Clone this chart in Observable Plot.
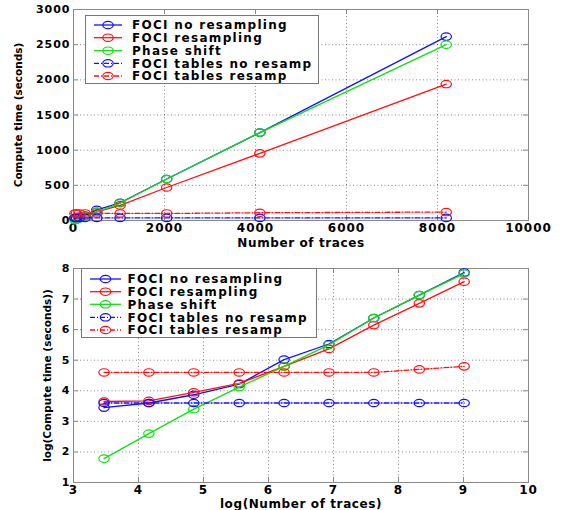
<!DOCTYPE html>
<html><head><meta charset="utf-8">
<script src="https://cdn.jsdelivr.net/npm/d3@7"></script>
<script src="https://cdn.jsdelivr.net/npm/@observablehq/plot@0.6"></script>
<style>
body{margin:0;background:#fff;}
#wrap{position:relative;width:563px;height:510px;overflow:hidden;}
#wrap svg{display:block;}
g[aria-label="y-axis label"] text{letter-spacing:0;font-size:10.5px;}
g[aria-label="x-axis label"] text{letter-spacing:0.6px;}
.legend{position:absolute;}
</style>
</head><body>
<div id="wrap"></div>
<script>
// ---------- data ----------
const traces = [32, 64, 128, 256, 512, 1024, 2048, 4096, 8192];
const logTraces = [3.47, 4.16, 4.85, 5.55, 6.24, 6.93, 7.62, 8.32, 9.01];

const seriesNames = ["FOCI no resampling", "FOCI resampling", "Phase shift", "FOCI tables no resamp", "FOCI tables resamp"];
const seriesColors = ["#1010ff", "#ff1010", "#10e010", "#1010ff", "#ff1010"];
const seriesDash = [null, null, null, "5,2,1,2", "5,2,1,2"];

// compute time (seconds) — top panel
const timeFociNoResamp   = [32, 37, 48, 68, 151, 252, 590, 1250, 2615];
const timeFociResamp     = [38, 39, 52, 69, 122, 215, 469, 955, 1940];
const timePhaseShift     = [6, 13, 30, 62, 122, 245, 590, 1250, 2500];
const timeTablesNoResamp = [37, 37, 37, 37, 37, 37, 37, 37, 37];
const timeTablesResamp   = [100, 100, 100, 100, 100, 100, 100, 110, 120];

// log(compute time) — bottom panel
const logFociNoResamp   = [3.45, 3.60, 3.87, 4.22, 5.02, 5.53, 6.38, 7.13, 7.87];
const logFociResamp     = [3.65, 3.67, 3.95, 4.24, 4.80, 5.37, 6.15, 6.86, 7.57];
const logPhaseShift     = [1.78, 2.60, 3.40, 4.12, 4.80, 5.50, 6.38, 7.13, 7.83];
const logTablesNoResamp = [3.60, 3.60, 3.60, 3.60, 3.60, 3.60, 3.60, 3.60, 3.60];
const logTablesResamp   = [4.60, 4.60, 4.60, 4.60, 4.60, 4.60, 4.60, 4.70, 4.80];

const xTicksTop = [0, 2000, 4000, 6000, 8000, 10000];
const yTicksTop = [0, 500, 1000, 1500, 2000, 2500, 3000];
const xTicksBottom = [3, 4, 5, 6, 7, 8, 9, 10];
const yTicksBottom = [1, 2, 3, 4, 5, 6, 7, 8];

// ---------- helpers ----------
const ellipse = {
  draw(ctx, size) {
    const r = Math.sqrt(size / Math.PI), rx = r * 1.4, ry = r, k = 0.5523;
    ctx.moveTo(rx, 0);
    ctx.bezierCurveTo(rx, ry * k, rx * k, ry, 0, ry);
    ctx.bezierCurveTo(-rx * k, ry, -rx, ry * k, -rx, 0);
    ctx.bezierCurveTo(-rx, -ry * k, -rx * k, -ry, 0, -ry);
    ctx.bezierCurveTo(rx * k, -ry, rx, -ry * k, rx, 0);
    ctx.closePath();
  }
};

function seriesMarks(xs, ysList) {
  const marks = [];
  ysList.forEach((ys, i) => {
    const rows = xs.map((x, j) => ({x, y: ys[j]}));
    marks.push(Plot.line(rows, {x: "x", y: "y", stroke: seriesColors[i], strokeWidth: 1.3,
      strokeDasharray: seriesDash[i] || undefined}));
    marks.push(Plot.dot(rows, {x: "x", y: "y", stroke: seriesColors[i], fill: "none", r: 3.7,
      symbol: ellipse, strokeWidth: 1.2}));
  });
  return marks;
}

function panel({xDomain, yDomain, xTicks, yTicks, xs, ysList, xLabel, yLabel,
                height, marginTop, marginBottom, xLabelOffset, yLabelOffset}) {
  const W = 563, mL = 73, mR = 35;
  const pw = W - mL - mR, ph = height - marginTop - marginBottom;
  const frameColor = "#8a8a8a";
  const fmt = d => String(d);
  return Plot.plot({
    width: W, height, marginLeft: mL, marginRight: mR, marginTop, marginBottom,
    style: {fontFamily: "'DejaVu Sans', sans-serif", fontWeight: "bold", fontSize: "11px",
            letterSpacing: "1px", color: "#000", background: "#fff"},
    x: {domain: xDomain},
    y: {domain: yDomain},
    marks: [
      Plot.gridX(xTicks, {stroke: "#000", strokeOpacity: 0.45, strokeDasharray: "1,2.5"}),
      Plot.gridY(yTicks, {stroke: "#000", strokeOpacity: 0.45, strokeDasharray: "1,2.5"}),
      Plot.tickX(xTicks, {x: d => d, insetTop: ph - 5, stroke: frameColor}),
      Plot.tickX(xTicks, {x: d => d, insetBottom: ph - 5, stroke: frameColor}),
      Plot.tickY(yTicks, {y: d => d, insetRight: pw - 5, stroke: frameColor}),
      Plot.tickY(yTicks, {y: d => d, insetLeft: pw - 5, stroke: frameColor}),
      Plot.frame({stroke: frameColor}),
      Plot.axisX(xTicks, {tickSize: 0, tickPadding: 3, tickFormat: fmt, label: xLabel, labelAnchor: "center",
        labelArrow: "none", labelOffset: xLabelOffset, fontSize: 12}),
      Plot.axisY(yTicks, {tickSize: 0, tickPadding: 3, tickFormat: fmt, label: yLabel, labelAnchor: "center",
        labelArrow: "none", labelOffset: yLabelOffset, fontSize: 11}),
      ...seriesMarks(xs, ysList)
    ]
  });
}

function legend({left, top, width, height, rowY, lineX1, lineX2, textX}) {
  const svg = d3.create("svg").attr("class", "legend").attr("width", width).attr("height", height)
    .style("left", left + "px").style("top", top + "px");
  svg.append("rect").attr("x", 0.5).attr("y", 0.5).attr("width", width - 1).attr("height", height - 1)
    .attr("fill", "#fff").attr("stroke", "#777");
  seriesNames.forEach((name, i) => {
    const y = rowY[i] - top;
    svg.append("line").attr("x1", lineX1 - left).attr("x2", lineX2 - left).attr("y1", y).attr("y2", y)
      .attr("stroke", seriesColors[i]).attr("stroke-width", 1.3)
      .attr("stroke-dasharray", seriesDash[i]);
    svg.append("ellipse").attr("cx", (lineX1 + lineX2) / 2 - left).attr("cy", y).attr("rx", 5.2).attr("ry", 3.7)
      .attr("fill", "none").attr("stroke", seriesColors[i]).attr("stroke-width", 1.2);
    svg.append("text").attr("x", textX - left).attr("y", y).attr("dy", "0.36em").text(name)
      .attr("font-family", "'DejaVu Sans', sans-serif").attr("font-weight", "bold")
      .attr("font-size", 12).attr("letter-spacing", "1.3px").attr("fill", "#000");
  });
  return svg.node();
}

const wrap = document.getElementById("wrap");

wrap.appendChild(panel({
  xDomain: [0, 10000], yDomain: [0, 3000], xTicks: xTicksTop, yTicks: yTicksTop,
  xs: traces,
  ysList: [timeFociNoResamp, timeFociResamp, timePhaseShift, timeTablesNoResamp, timeTablesResamp],
  xLabel: "Number of traces", yLabel: "Compute time (seconds)",
  height: 255, marginTop: 9, marginBottom: 35, xLabelOffset: 26, yLabelOffset: 59
}));

wrap.appendChild(panel({
  xDomain: [3, 10], yDomain: [1, 8], xTicks: xTicksBottom, yTicks: yTicksBottom,
  xs: logTraces,
  ysList: [logFociNoResamp, logFociResamp, logPhaseShift, logTablesNoResamp, logTablesResamp],
  xLabel: "log(Number of traces)", yLabel: "log(Compute time (seconds))",
  height: 255, marginTop: 13, marginBottom: 28, xLabelOffset: 25, yLabelOffset: 30
}));

wrap.appendChild(legend({left: 85, top: 15, width: 234, height: 69,
  rowY: [25, 37.7, 50.7, 63.3, 76], lineX1: 94, lineX2: 122, textX: 132}));
wrap.appendChild(legend({left: 81, top: 268, width: 236, height: 70,
  rowY: [279, 291.7, 304.3, 317.3, 330], lineX1: 90, lineX2: 121, textX: 127.5}));
</script>
</body></html>
